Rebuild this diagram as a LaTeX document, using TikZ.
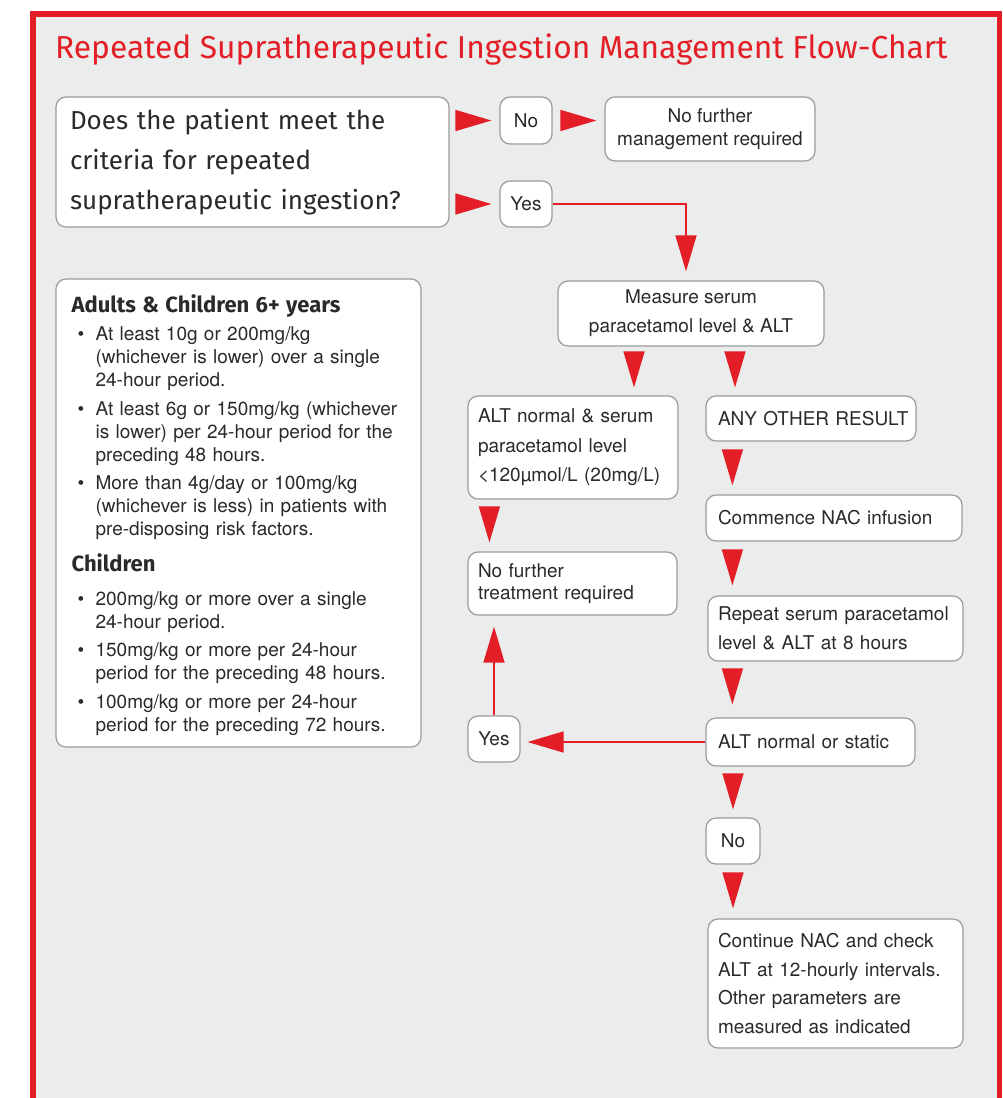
\documentclass[tikz,border=0pt]{standalone}
\usepackage{fontspec}
\setmainfont{TeX Gyre Heros}
\newfontfamily\headfont{Fira Sans}
\usetikzlibrary{arrows.meta,calc}
\definecolor{rsired}{HTML}{E31E26}
\definecolor{panel}{HTML}{EBECEC}
\definecolor{edge}{HTML}{9C9C9C}
\definecolor{ink}{HTML}{2A2A2A}
\newcommand{\critem}[1]{\par\vspace{5.5pt}\hangindent=24pt\hangafter=1\noindent\hspace*{6pt}\makebox[18pt][l]{\textbullet}#1\par}

\begin{document}
\begin{tikzpicture}[x=1pt,y=-1pt,
    box/.style={draw=edge,fill=white,rounded corners=10pt,line width=1.2pt,inner sep=0pt,text=ink,
      font=\fontsize{19}{23}\selectfont},
    tri/.style={-{Triangle[length=36pt,width=21pt]},draw=rsired,line width=1.4pt}]
  \fill[white] (0,0) rectangle (1003,1098);
  \useasboundingbox (0,0) rectangle (1003,1098);
  \fill[panel] (33,14) rectangle (999.5,1098);
  \draw[rsired,line width=5.5pt] (33,1098) -- (33,14) -- (999.5,14) -- (999.5,1098);
  \node[anchor=base west,inner sep=0pt,text=rsired,font=\headfont\fontsize{31.7}{32}\selectfont] (title) at (55,58)
    {Repeated Supratherapeutic Ingestion Management Flow-Chart};

  \node[box,align=left,text width=365pt,inner xsep=14pt,minimum height=130pt,
    font=\headfont\fontsize{26}{40}\selectfont] (q) at (252.5,162)
    {\mbox{Does the patient meet the}\\\mbox{criteria for repeated}\\\mbox{supratherapeutic ingestion?}};
  \node[box,minimum width=52pt,minimum height=47pt] (no) at (526,120.5) {No};
  \node[box,align=center,minimum width=210pt,minimum height=64pt] (nomgmt) at (710,129)
    {No further\\management required};
  \node[box,minimum width=52pt,minimum height=46pt] (yes) at (526,204) {Yes};
  \node[box,align=center,minimum width=266pt,minimum height=65pt,font=\fontsize{19}{29}\selectfont] (measure) at (691,313.5)
    {Measure serum\\paracetamol level \& ALT};
  \node[box,align=left,text width=190pt,inner xsep=10pt,minimum height=103pt,font=\fontsize{19}{29.5}\selectfont] (altok) at (573,447.5)
    {ALT normal \& serum\\paracetamol level\\<120µmol/L (20mg/L)};
  \node[box,align=left,text width=186pt,inner xsep=12pt,minimum height=45pt] (other) at (811,418.5) {\mbox{ANY OTHER RESULT}};
  \node[box,align=left,text width=232pt,inner xsep=12pt,minimum height=46pt] (nac) at (834,518) {Commence NAC infusion};
  \node[box,align=left,text width=235pt,inner xsep=10pt,minimum height=65pt,font=\fontsize{19}{29}\selectfont] (repeat) at (835.5,628.5)
    {\mbox{Repeat serum paracetamol}\\level \& ALT at 8 hours};
  \node[box,align=left,text width=185pt,inner xsep=12pt,minimum height=48pt] (altstatic) at (810.5,742) {ALT normal or static};
  \node[box,minimum width=52pt,minimum height=46pt] (yes2) at (494,739) {Yes};
  \node[box,align=left,text width=189pt,inner xsep=10pt,minimum height=63pt,font=\fontsize{19}{22}\selectfont] (notreat) at (572.5,583.5)
    {No further\\treatment required};
  \node[box,minimum width=54pt,minimum height=46pt] (no2) at (733,841) {No};
  \node[box,align=left,text width=235pt,inner xsep=10pt,minimum height=129pt,font=\fontsize{19}{28.5}\selectfont] (continue) at (835.5,983.5)
    {Continue NAC and check\\\mbox{ALT at 12-hourly intervals.}\\Other parameters are\\measured as indicated};

  \node[box,minimum width=365pt,minimum height=468pt] (crit) at (238.5,513) {};
  \node[anchor=north west,inner sep=0pt,text width=340pt,text=ink,font=\fontsize{19}{23}\selectfont] (critlist)
    at ([xshift=16pt,yshift=-16pt]crit.north west) {\raggedright
    {\headfont\bfseries\fontsize{22}{23}\selectfont Adults \& Children 6+ years\par}
    \critem{At least 10g or 200mg/kg\newline(whichever is lower) over a single\newline 24-hour period.}
    \critem{At least 6g or 150mg/kg (whichever\newline is lower) per 24-hour period for the\newline preceding 48 hours.}
    \critem{More than 4g/day or 100mg/kg\newline(whichever is less) in patients with\newline pre-disposing risk factors.}
    \vspace{13pt}{\headfont\bfseries\fontsize{22}{23}\selectfont Children\par}\vspace{5pt}
    \critem{200mg/kg or more over a single\newline 24-hour period.}
    \critem{150mg/kg or more per 24-hour\newline period for the preceding 48 hours.}
    \critem{100mg/kg or more per 24-hour\newline period for the preceding 72 hours.}};

  \draw[tri,shorten <=7pt,shorten >=8pt] (q.east |- no.west) -- (no.west);
  \draw[tri,shorten <=9pt,shorten >=8pt] (no.east) -- (no.east -| nomgmt.west);
  \draw[tri,shorten <=7pt,shorten >=8pt] (q.east |- yes.west) -- (yes.west);
  \draw[tri,shorten >=9pt] (yes.east) -| ([xshift=-5pt]measure.north);
  \draw[tri,shorten <=6pt,shorten >=8pt] ([xshift=-57pt]measure.south) -- ([xshift=-57pt]measure.south |- altok.north);
  \draw[tri,shorten <=6pt,shorten >=8pt] ([xshift=44pt]measure.south) -- ([xshift=44pt]measure.south |- other.north);
  \draw[tri,shorten <=9pt,shorten >=9pt] ([xshift=27pt]other.south west) -- ([xshift=27pt]other.south west |- nac.north);
  \draw[tri,shorten <=9pt,shorten >=10pt] ([xshift=27pt]nac.south west) -- ([xshift=27pt]nac.south west |- repeat.north);
  \draw[tri,shorten <=8pt,shorten >=13pt] ([xshift=25pt]repeat.south west) -- ([xshift=25pt]repeat.south west |- altstatic.north);
  \draw[tri,shorten <=8pt,shorten >=8pt] (altstatic.south -| no2) -- (no2.north);
  \draw[tri,shorten <=9pt,shorten >=10pt] (no2.south) -- (no2.south |- continue.north);
  \draw[tri,shorten <=9pt,shorten >=9pt] ([xshift=22pt]altok.south west) -- ([xshift=22pt]altok.south west |- notreat.north);
  \draw[tri,shorten >=7pt] (altstatic.west) -- (altstatic.west -| yes2.east);
  \draw[tri,shorten >=11pt] (yes2.north) -- (yes2.north |- notreat.south);
\end{tikzpicture}
\end{document}
